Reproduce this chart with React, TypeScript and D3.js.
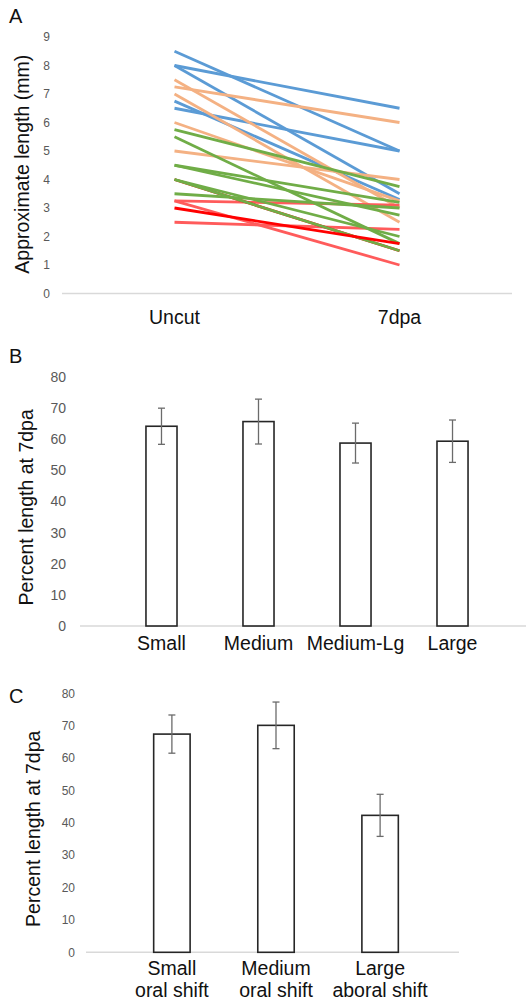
import * as d3 from "d3";

const FONT = "'Liberation Sans', Arial, sans-serif";

// Panel A: approximate length, uncut vs 7dpa
const timepoints = ["Uncut", "7dpa"];
const lengthTicks = [0, 1, 2, 3, 4, 5, 6, 7, 8, 9];
const blueLines: [number, number][] = [
  [8.5, 5.0],
  [8.0, 6.5],
  [8.0, 3.5],
  [6.75, 3.3],
  [6.5, 5.0],
];
const orangeLines: [number, number][] = [
  [7.5, 3.0],
  [7.25, 6.0],
  [7.0, 2.5],
  [6.0, 3.25],
  [5.0, 4.0],
];
const lightRedLines: [number, number][] = [
  [3.25, 3.1],
  [3.25, 1.0],
  [2.5, 2.25],
];
const hiddenRedLines: [number, number][] = [[4.0, 1.5]];
const greenLines: [number, number][] = [
  [5.75, 3.75],
  [5.5, 1.75],
  [4.5, 3.2],
  [4.5, 2.75],
  [4.0, 2.0],
  [4.0, 1.5],
  [3.5, 3.0],
];
const brightRedLines: [number, number][] = [[3.0, 1.75]];

// Panel B: percent length by size
const sizeGroups = ["Small", "Medium", "Medium-Lg", "Large"];
const sizeMeans = [64.1, 65.6, 58.7, 59.3];
const sizeErrors = [5.8, 7.2, 6.4, 6.8];

// Panel C: percent length by shift
const shiftGroups = [
  ["Small", "oral shift"],
  ["Medium", "oral shift"],
  ["Large", "aboral shift"],
];
const shiftMeans = [67.4, 70.1, 42.3];
const shiftErrors = [5.9, 7.2, 6.5];

const percentTicks = [0, 10, 20, 30, 40, 50, 60, 70, 80];

const LineLengthPanel = () => {
  const x = d3.scaleBand().domain(timepoints).range([62, 512]).padding(0);
  const y = d3.scaleLinear().domain([0, 9]).range([293.5, 37]);
  const cx = (k: string) => (x(k) as number) + x.bandwidth() / 2;
  const line = d3
    .line<number>()
    .x((_, i) => cx(timepoints[i]))
    .y((d) => y(d));

  const groups: { data: [number, number][]; color: string }[] = [
    { data: blueLines, color: "#5B9BD5" },
    { data: orangeLines, color: "#F4B183" },
    { data: lightRedLines, color: "#FF5B5B" },
    { data: hiddenRedLines, color: "#FF0000" },
    { data: greenLines, color: "#70AD47" },
    { data: brightRedLines, color: "#FF0000" },
  ];

  return (
    <g>
      <text x={9} y={23} fontSize={20} fill="#111">A</text>
      {lengthTicks.map((t) => (
        <text key={t} x={50} y={y(t) + 4} fontSize={12} fill="#595959" textAnchor="end">
          {t}
        </text>
      ))}
      <line x1={62} x2={512} y1={y(0)} y2={y(0)} stroke="#D9D9D9" strokeWidth={1.5} />
      {groups.map((g, gi) =>
        g.data.map((d, i) => (
          <path
            key={`${gi}-${i}`}
            d={line(d) as string}
            fill="none"
            stroke={g.color}
            strokeWidth={2.8}
          />
        ))
      )}
      {timepoints.map((t) => (
        <text key={t} x={cx(t)} y={324} fontSize={19.5} fill="#111" textAnchor="middle">
          {t}
        </text>
      ))}
      <text
        transform={`translate(29,${(y(0) + y(9)) / 2 - 1}) rotate(-90)`}
        fontSize={19.5}
        fill="#111"
        textAnchor="middle"
      >
        Approximate length (mm)
      </text>
    </g>
  );
};

type BarProps = {
  letter: string;
  letterY: number;
  groups: string[][];
  means: number[];
  errors: number[];
  yTop: number;
  yBottom: number;
  xStart: number;
  xEnd: number;
  axisEnd: number;
  padding: number;
  tickX: number;
  tickSize: number;
  labelX: number;
  catY: number;
};

const BarPanel = (p: BarProps) => {
  const keys = p.groups.map((g) => g.join(" "));
  const x = d3.scaleBand().domain(keys).range([p.xStart, p.xEnd]).padding(p.padding);
  const y = d3.scaleLinear().domain([0, 80]).range([p.yBottom, p.yTop]);
  const cap = 3.5;
  return (
    <g>
      <text x={9} y={p.letterY} fontSize={20} fill="#111">{p.letter}</text>
      {percentTicks.map((t) => (
        <text key={t} x={p.tickX} y={y(t) + p.tickSize * 0.36} fontSize={p.tickSize} fill="#595959" textAnchor="end">
          {t}
        </text>
      ))}
      <line x1={p.xStart} x2={p.axisEnd} y1={y(0)} y2={y(0)} stroke="#D9D9D9" strokeWidth={1.5} />
      {keys.map((k, i) => {
        const bx = x(k) as number;
        const c = bx + x.bandwidth() / 2;
        const m = p.means[i];
        const e = p.errors[i];
        return (
          <g key={k}>
            <rect
              x={bx}
              y={y(m)}
              width={x.bandwidth()}
              height={y(0) - y(m)}
              fill="#fff"
              stroke="#262626"
              strokeWidth={1.6}
            />
            <line x1={c} x2={c} y1={y(m + e)} y2={y(m - e)} stroke="#6b6b6b" strokeWidth={1.3} />
            <line x1={c - cap} x2={c + cap} y1={y(m + e)} y2={y(m + e)} stroke="#6b6b6b" strokeWidth={1.3} />
            <line x1={c - cap} x2={c + cap} y1={y(m - e)} y2={y(m - e)} stroke="#6b6b6b" strokeWidth={1.3} />
            {p.groups[i].map((s, j) => (
              <text key={j} x={c} y={p.catY + j * 22} fontSize={19.5} fill="#111" textAnchor="middle">
                {s}
              </text>
            ))}
          </g>
        );
      })}
      <text
        transform={`translate(${p.labelX},${(y(0) + y(80)) / 2 + 6}) rotate(-90)`}
        fontSize={19.5}
        fill="#111"
        textAnchor="middle"
      >
        Percent length at 7dpa
      </text>
    </g>
  );
};

export default function App() {
  return (
    <svg
      width={526}
      height={1002}
      style={{ position: "absolute", left: 0, top: 0, display: "block", background: "#fff" }}
      fontFamily={FONT}
    >
      <LineLengthPanel />
      <BarPanel
        letter="B"
        letterY={363}
        groups={sizeGroups.map((g) => [g])}
        means={sizeMeans}
        errors={sizeErrors}
        yTop={376.7}
        yBottom={626}
        xStart={80}
        xEnd={534}
        axisEnd={526}
        padding={0.68}
        tickX={66}
        tickSize={14}
        labelX={33}
        catY={650}
      />
      <BarPanel
        letter="C"
        letterY={703}
        groups={shiftGroups}
        means={shiftMeans}
        errors={shiftErrors}
        yTop={693.3}
        yBottom={952.3}
        xStart={86}
        xEnd={466}
        axisEnd={459}
        padding={0.65}
        tickX={75}
        tickSize={12}
        labelX={40}
        catY={975}
      />
    </svg>
  );
}
